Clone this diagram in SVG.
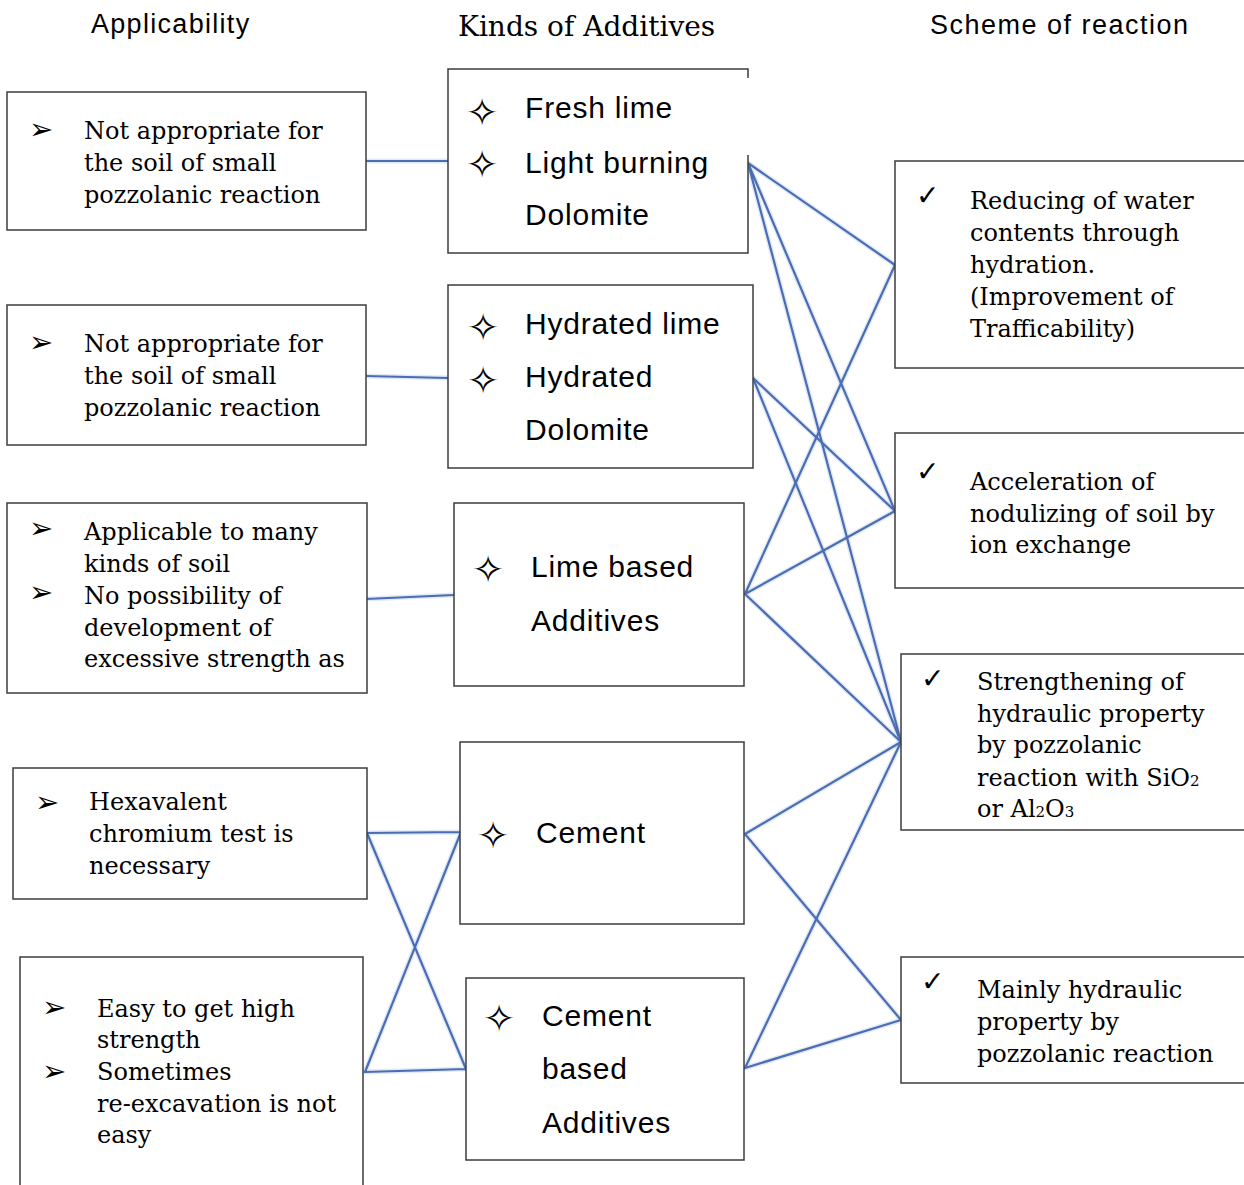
<svg xmlns="http://www.w3.org/2000/svg" width="1244" height="1185" viewBox="0 0 1244 1185">
  <style>
    .box { fill: #ffffff; stroke: #3c3c3c; stroke-width: 1.5; }
    .edge { fill: none; stroke: #3c3c3c; stroke-width: 1.5; }
    .head { font-family: "Liberation Sans", Arial, sans-serif; font-size: 27px; fill: #000; }
    .heads { font-family: "DejaVu Serif", "Liberation Serif", serif; font-size: 28px; fill: #000; }
    .ser { font-family: "DejaVu Serif", "Liberation Serif", serif; font-size: 24px; fill: #000; }
    .sans { font-family: "Liberation Sans", Arial, sans-serif; font-size: 30px; letter-spacing: 0.8px; fill: #000; }
    .sym { font-family: "DejaVu Sans", sans-serif; font-size: 29px; fill: #000; }
    .chk { font-family: "DejaVu Sans", sans-serif; font-size: 28px; fill: #000; }
    .star { font-family: "DejaVu Sans", sans-serif; font-size: 39px; fill: #000; text-anchor: middle; }
    .sub { font-size: 15px; }
    .glow { fill: none; stroke: #bccdea; stroke-width: 5; stroke-opacity: 0.45; stroke-linecap: round; }
    .wire { fill: none; stroke: #4a6db3; stroke-width: 2.2; stroke-linecap: round; }
  </style>
  <defs>
    <clipPath id="headClip">
      <rect x="0" y="0" width="1244" height="37"/>
    </clipPath>
  </defs>

  <rect width="1244" height="1185" fill="#ffffff"/>

  <!-- column headings -->
  <g id="headings">
    <text class="head" x="91" y="33" letter-spacing="1.3">Applicability</text>
    <text class="heads" x="458" y="36" clip-path="url(#headClip)">Kinds of Additives</text>
    <text class="head" x="930" y="34" letter-spacing="1.5">Scheme of reaction</text>
  </g>

  <!-- connectors -->
  <g id="connectors">
    <g class="glow">
      <path d="M366 161 L448 161 M366 376 L448 378 M366 599 L454 595"/>
      <path d="M367 833 L461 832 M365 1072 L466 1069 M367 833 L466 1069 M461 832 L365 1072"/>
      <path d="M748 163 L895 265 M748 163 L895 511 M748 163 L901 742"/>
      <path d="M753 378 L895 511 M753 378 L901 742"/>
      <path d="M745 594 L895 265 M745 594 L895 511 M745 594 L901 742"/>
      <path d="M745 834 L901 742 M745 834 L901 1020"/>
      <path d="M745 1068 L901 742 M745 1068 L901 1020"/>
    </g>
    <g class="wire">
      <path d="M366 161 L448 161 M366 376 L448 378 M366 599 L454 595"/>
      <path d="M367 833 L461 832 M365 1072 L466 1069 M367 833 L466 1069 M461 832 L365 1072"/>
      <path d="M748 163 L895 265 M748 163 L895 511 M748 163 L901 742"/>
      <path d="M753 378 L895 511 M753 378 L901 742"/>
      <path d="M745 594 L895 265 M745 594 L895 511 M745 594 L901 742"/>
      <path d="M745 834 L901 742 M745 834 L901 1020"/>
      <path d="M745 1068 L901 742 M745 1068 L901 1020"/>
    </g>
  </g>

  <!-- applicability column -->
  <g id="app-1">
    <rect class="box" x="7" y="92" width="359" height="138"/>
    <text class="sym" x="29" y="139">➢</text>
    <text class="ser"><tspan x="84" y="139">Not appropriate for</tspan><tspan x="84" y="171">the soil of small</tspan><tspan x="84" y="203">pozzolanic reaction</tspan></text>
  </g>
  <g id="app-2">
    <rect class="box" x="7" y="305" width="359" height="140"/>
    <text class="sym" x="29" y="352">➢</text>
    <text class="ser"><tspan x="84" y="352">Not appropriate for</tspan><tspan x="84" y="384">the soil of small</tspan><tspan x="84" y="416">pozzolanic reaction</tspan></text>
  </g>
  <g id="app-3">
    <rect class="box" x="7" y="503" width="360" height="190"/>
    <text class="sym" x="29" y="538">➢</text>
    <text class="sym" x="29" y="602">➢</text>
    <text class="ser"><tspan x="84" y="540">Applicable to many</tspan><tspan x="84" y="572">kinds of soil</tspan><tspan x="84" y="604">No possibility of</tspan><tspan x="84" y="636">development of</tspan><tspan x="84" y="667">excessive strength as</tspan></text>
  </g>
  <g id="app-4">
    <rect class="box" x="13" y="768" width="354" height="131"/>
    <text class="sym" x="35" y="812">➢</text>
    <text class="ser"><tspan x="89" y="810">Hexavalent</tspan><tspan x="89" y="842">chromium test is</tspan><tspan x="89" y="874">necessary</tspan></text>
  </g>
  <g id="app-5">
    <path class="box" d="M20 1186 L20 957 L363 957 L363 1186"/>
    <text class="sym" x="42" y="1017">➢</text>
    <text class="sym" x="42" y="1081">➢</text>
    <text class="ser"><tspan x="97" y="1017">Easy to get high</tspan><tspan x="97" y="1048">strength</tspan><tspan x="97" y="1080">Sometimes</tspan><tspan x="97" y="1112">re-excavation is not</tspan><tspan x="97" y="1143">easy</tspan></text>
  </g>

  <!-- additive kinds column -->
  <g id="kind-lime">
    <rect x="448" y="69" width="300" height="184" fill="#ffffff"/>
    <path class="edge" d="M748 78 L748 69 L448 69 L448 253 L748 253 L748 155"/>
    <text class="star" x="482" y="126">✧</text>
    <text class="star" x="482" y="178">✧</text>
    <text class="sans"><tspan x="525" y="118">Fresh lime</tspan><tspan x="525" y="173">Light burning</tspan><tspan x="525" y="225">Dolomite</tspan></text>
  </g>
  <g id="kind-hydrated">
    <rect class="box" x="448" y="285" width="305" height="183"/>
    <text class="star" x="483" y="341">✧</text>
    <text class="star" x="483" y="394">✧</text>
    <text class="sans"><tspan x="525" y="334">Hydrated lime</tspan><tspan x="525" y="387">Hydrated</tspan><tspan x="525" y="440">Dolomite</tspan></text>
  </g>
  <g id="kind-lime-based">
    <rect class="box" x="454" y="503" width="290" height="183"/>
    <text class="star" x="488" y="583">✧</text>
    <text class="sans"><tspan x="531" y="577">Lime based</tspan><tspan x="531" y="631">Additives</tspan></text>
  </g>
  <g id="kind-cement">
    <rect class="box" x="460" y="742" width="284" height="182"/>
    <text class="star" x="493" y="849">✧</text>
    <text class="sans" x="536" y="843">Cement</text>
  </g>
  <g id="kind-cement-based">
    <rect class="box" x="466" y="978" width="278" height="182"/>
    <text class="star" x="499" y="1032">✧</text>
    <text class="sans"><tspan x="542" y="1026">Cement</tspan><tspan x="542" y="1079">based</tspan><tspan x="542" y="1133">Additives</tspan></text>
  </g>

  <!-- reaction scheme column (boxes run past the right edge) -->
  <g id="scheme-hydration">
    <rect class="box" x="895" y="161" width="360" height="207"/>
    <text class="chk" x="916" y="205">✓</text>
    <text class="ser"><tspan x="970" y="209">Reducing of water</tspan><tspan x="970" y="241">contents through</tspan><tspan x="970" y="273">hydration.</tspan><tspan x="970" y="305">(Improvement of</tspan><tspan x="970" y="337">Trafficability)</tspan></text>
  </g>
  <g id="scheme-ion">
    <rect class="box" x="895" y="433" width="360" height="155"/>
    <text class="chk" x="916" y="481">✓</text>
    <text class="ser"><tspan x="970" y="490">Acceleration of</tspan><tspan x="970" y="522">nodulizing of soil by</tspan><tspan x="970" y="553">ion exchange</tspan></text>
  </g>
  <g id="scheme-pozzolanic">
    <rect class="box" x="901" y="654" width="360" height="176"/>
    <text class="chk" x="921" y="688">✓</text>
    <text class="ser"><tspan x="977" y="690">Strengthening of</tspan><tspan x="977" y="722">hydraulic property</tspan><tspan x="977" y="753">by pozzolanic</tspan><tspan x="977" y="786">reaction with SiO<tspan class="sub">2</tspan></tspan><tspan x="977" y="817">or Al<tspan class="sub">2</tspan>O<tspan class="sub">3</tspan></tspan></text>
  </g>
  <g id="scheme-hydraulic">
    <rect class="box" x="901" y="957" width="360" height="126"/>
    <text class="chk" x="921" y="991">✓</text>
    <text class="ser"><tspan x="977" y="998">Mainly hydraulic</tspan><tspan x="977" y="1030">property by</tspan><tspan x="977" y="1062">pozzolanic reaction</tspan></text>
  </g>
</svg>
